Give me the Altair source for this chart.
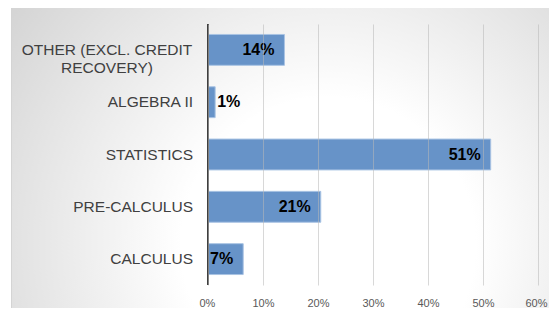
import altair as alt
import pandas as pd

categories = ["OTHER (EXCL. CREDIT RECOVERY)", "ALGEBRA II", "STATISTICS", "PRE-CALCULUS", "CALCULUS"]
label_lines = [["OTHER (EXCL. CREDIT", "RECOVERY)"], ["ALGEBRA II"], ["STATISTICS"], ["PRE-CALCULUS"], ["CALCULUS"]]
values = [0.139, 0.013, 0.514, 0.205, 0.064]
value_labels = ["14%", "1%", "51%", "21%", "7%"]
inside = [True, False, True, True, True]

df = pd.DataFrame({
    "cat": categories,
    "lines": label_lines,
    "nlines": [len(l) for l in label_lines],
    "v": values,
    "lab": value_labels,
    "inside": inside,
})

yenc = alt.Y("cat:N", sort=categories, axis=None,
             scale=alt.Scale(paddingInner=0.41, paddingOuter=0.2))
xscale = alt.Scale(domain=[0, 0.6])

base = alt.Chart(df)

bg = base.transform_filter("datum.cat == 'CALCULUS'").mark_rect(
    fill=alt.Gradient(gradient="radial", x1=0.55, y1=0.62, x2=0.55, y2=0.62, r1=0.0, r2=0.85,
                      stops=[alt.GradientStop(color="#ffffff", offset=0.0),
                             alt.GradientStop(color="#ffffff", offset=0.3),
                             alt.GradientStop(color="#c4c4c4", offset=1.0)]),
    stroke="#d4d4d4", strokeWidth=1,
).encode(x=alt.value(-196.5), x2=alt.value(380), y=alt.value(-16.5), y2=alt.value(320))

bars = base.mark_bar(color="#6793c8", stroke="#a9c3e3", strokeWidth=1).encode(
    x=alt.X("v:Q", scale=xscale,
            axis=alt.Axis(format=".0%", values=[0, 0.1, 0.2, 0.3, 0.4, 0.5, 0.6],
                          grid=True, gridColor="#b8b8b8", gridOpacity=0.55, gridWidth=1,
                          domain=False, ticks=False, labelFontSize=11, zindex=1,
                          labelFlush=True, labelFlushOffset=9,
                          labelColor="#595959", labelFont="Liberation Sans",
                          labelPadding=12, title=None)),
    y=yenc,
)

zero = base.transform_filter("datum.cat == 'CALCULUS'").mark_rule(color="#3f3f3f", strokeWidth=2).encode(
    x=alt.value(0), y=alt.value(0), y2=alt.value(261)
)

lab_in = base.transform_filter("datum.inside").mark_text(
    align="right", baseline="middle", dx=-10, fontSize=16, fontWeight="bold",
    font="Liberation Sans", color="#000000"
).encode(x=alt.X("v:Q", scale=xscale), y=yenc, text="lab:N")

lab_out = base.transform_filter("!datum.inside").mark_text(
    align="left", baseline="middle", dx=2, fontSize=16, fontWeight="bold",
    font="Liberation Sans", color="#000000"
).encode(x=alt.X("v:Q", scale=xscale), y=yenc, text="lab:N")

cat_single = base.transform_filter("datum.nlines == 1").mark_text(
    align="right", baseline="middle", fontSize=15.5, font="Liberation Sans", color="#404040"
).encode(x=alt.value(-15), y=yenc, text="lines")

cat_multi = base.transform_filter("datum.nlines > 1").mark_text(
    align="center", baseline="middle", fontSize=15.5, font="Liberation Sans", color="#404040",
    lineHeight=18
).encode(x=alt.value(-101), y=yenc, text="lines")

chart = alt.layer(bg, bars, zero, lab_in, lab_out, cat_single, cat_multi).properties(
    width=330, height=261,
    autosize=alt.AutoSizeParams(type="none"),
    padding={"left": 200, "top": 16, "right": 11, "bottom": 23},
    background="white",
).configure_view(stroke=None)

chart.save("out.html", embed_options={"renderer": "svg", "actions": False})
